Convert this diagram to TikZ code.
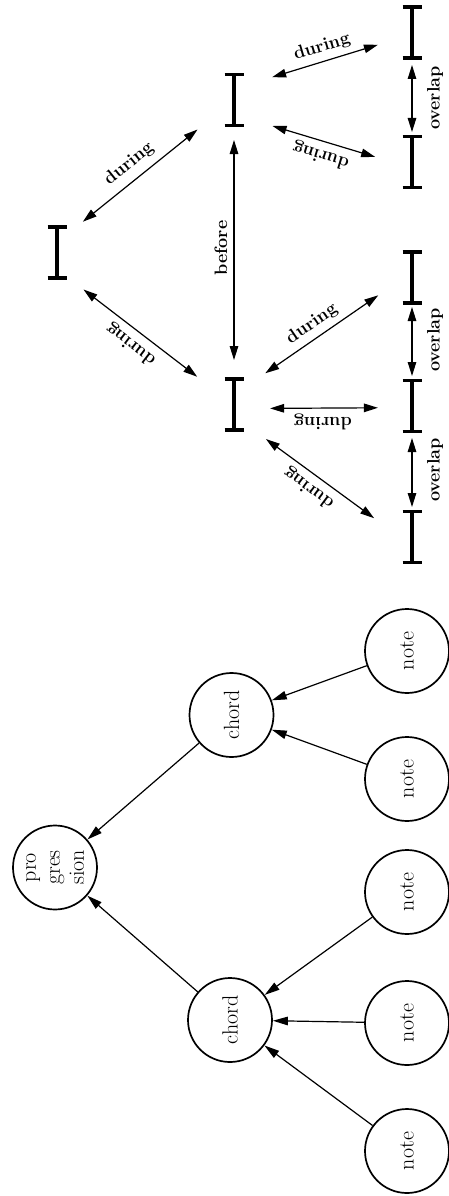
\documentclass[tikz,border=0pt]{standalone}
\usetikzlibrary{arrows.meta}
\begin{document}
\begin{tikzpicture}[x=1pt,y=-1pt,
  mid/.style={circle,minimum size=88pt,inner sep=0pt,outer sep=0pt},
  rgt/.style={circle,minimum size=68pt,inner sep=0pt,outer sep=0pt},
  barline/.style={line width=3.5pt},
  dbl/.style={{Triangle[length=14pt,width=8.5pt]}-{Triangle[length=14pt,width=8.5pt]},line width=1.2pt},
  rel/.style={font=\bfseries\fontsize{18}{20}\selectfont,inner sep=0pt},
  tnode/.style={circle,draw,line width=1.7pt,minimum size=84pt,inner sep=0pt,font=\fontsize{22}{24}\selectfont,rotate=90,align=center},
  tedge/.style={-{Triangle[length=15pt,width=8.5pt]},line width=1.2pt}]
\useasboundingbox (0,0) rectangle (449,1196);

% interval nodes
\node[mid] (A) at (57,252.5) {};
\node[mid] (B) at (234,100) {};
\node[mid] (C) at (234,404.5) {};
\node[rgt] (R1) at (412,32.5) {};
\node[rgt] (R2) at (412,162) {};
\node[rgt] (R3) at (412,277.5) {};
\node[rgt] (R4) at (412,406) {};
\node[rgt] (R5) at (412,537) {};

\foreach \n in {A,B,C,R1,R2,R3,R4,R5}{
  \draw[barline] ([shift={(-9.5,-25.5)}]\n.center) -- ++(19,0)
                 ([shift={(0,-25.5)}]\n.center) -- ++(0,51)
                 ([shift={(-9.5,25.5)}]\n.center) -- ++(19,0);
}

% relations
\draw[dbl,shorten <=-3.9pt,shorten >=2.9pt] (A.49.6) -- (B.219.8);
\node[rel,rotate=39] (l1) at (129,164) {during};
\draw[dbl,shorten <=1.6pt,shorten >=2.1pt] (A.-55.3) -- (C.143.4);
\node[rel,rotate=142.6] (l2) at (131,344) {during};
\draw[dbl,shorten <=-4pt,shorten >=0.5pt] (B.-90) -- (C.90);
\node[rel,rotate=90] (l3) at (221,248) {before};
\draw[dbl,shorten <=0.4pt,shorten >=2.2pt] (B.31.2) -- (R1.200.2);
\node[rel,rotate=16.8] (l4) at (322,47) {during};
\draw[dbl,shorten <=2.6pt,shorten >=3.2pt] (B.-35.4) -- (R2.173.8);
\node[rel,rotate=163.2] (l5) at (321,155) {during};
\draw[dbl,shorten <=0.2pt,shorten >=4.2pt] (C.45.5) -- (R3.207.2);
\node[rel,rotate=34.6] (l6) at (312,324) {during};
\draw[dbl,shorten <=-7.8pt,shorten >=0.1pt] (C.-5.6) -- (R4.183.4);
\node[rel,rotate=180] (l7) at (323,422) {during};
\draw[dbl,shorten <=3.1pt,shorten >=8.5pt] (C.-48.9) -- (R5.156.4);
\node[rel,rotate=143.5] (l8) at (309,488) {during};
\draw[dbl,shorten <=-1.5pt,shorten >=-4pt] (R1.-90) -- (R2.90);
\node[rel,rotate=90] (l9) at (435,98) {overlap};
\draw[dbl,shorten <=-4.5pt,shorten >=-4pt] (R3.-90) -- (R4.90);
\node[rel,rotate=90] (l10) at (435,340) {overlap};
\draw[dbl,shorten <=-2pt,shorten >=-4pt] (R4.-90) -- (R5.90);
\node[rel,rotate=90] (l11) at (435,470) {overlap};

% tree
\node[tnode] (P) at (55,867.5) {pro\\gres\\sion};
\node[tnode] (C1) at (231.5,715) {chord};
\node[tnode] (C2) at (230,1020) {chord};
\node[tnode] (N1) at (407,651) {note};
\node[tnode] (N2) at (407,779) {note};
\node[tnode] (N3) at (407,892) {note};
\node[tnode] (N4) at (407,1023) {note};
\node[tnode] (N5) at (407,1151) {note};

\draw[tedge] (C1) -- (P);
\draw[tedge] (C2) -- (P);
\draw[tedge] (N1) -- (C1);
\draw[tedge] (N2) -- (C1);
\draw[tedge] (N3) -- (C2);
\draw[tedge] (N4) -- (C2);
\draw[tedge] (N5) -- (C2);
\end{tikzpicture}
\end{document}
